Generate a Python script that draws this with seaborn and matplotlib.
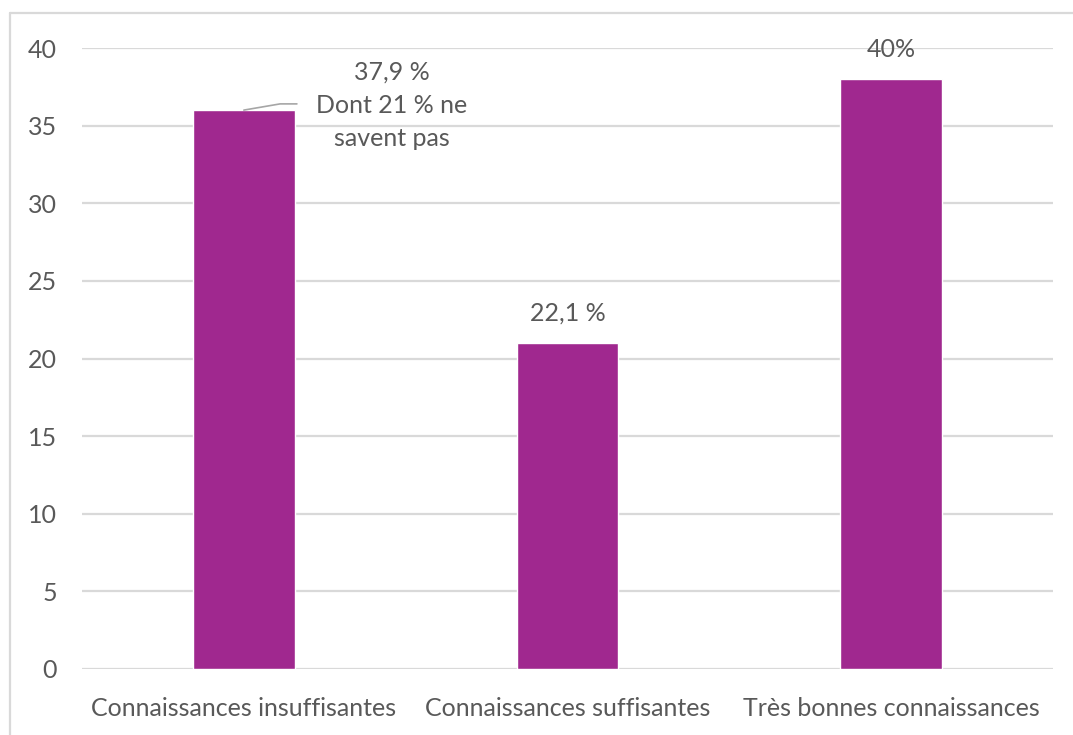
import matplotlib
matplotlib.use("Agg")
import matplotlib.pyplot as plt
import seaborn as sns
import pandas as pd
from matplotlib.lines import Line2D

categories = ["Connaissances insuffisantes", "Connaissances suffisantes", "Très bonnes connaissances"]
values = [36, 21, 38]
labels = ["37,9 %\nDont 21 % ne\nsavent pas", "22,1 %", "40%"]
yticks = [0, 5, 10, 15, 20, 25, 30, 35, 40]

sns.set_theme(style="white")
plt.rcParams['font.family'] = ['Lato', 'DejaVu Sans']

BAR = "#A0288F"
TXT = "#595959"
GRID = "#D9D9D9"
FS = 18

df = pd.DataFrame({"cat": categories, "val": values})

W, H = 1073, 735
fig = plt.figure(figsize=(W / 100, H / 100), dpi=100)
ax = fig.add_axes([82 / W, 1 - 669 / H, (1053 - 82) / W, (669 - 48) / H])

sns.barplot(data=df, x="cat", y="val", color=BAR, width=0.315, saturation=1, ax=ax, zorder=3)

ax.set_xlim(-0.5, 2.5)
ax.set_ylim(0, 40)
ax.set_yticks(yticks)
ax.set_yticklabels([str(t) for t in yticks])
ax.yaxis.grid(True, color=GRID, linewidth=1.6, zorder=0)
ax.set_axisbelow(True)
for s in ax.spines.values():
    s.set_visible(False)
ax.set_xlabel("")
ax.set_ylabel("")
ax.tick_params(axis="y", length=0, pad=18, labelsize=FS, labelcolor=TXT)
ax.tick_params(axis="x", length=0, pad=20, labelsize=FS, labelcolor=TXT)

# labels
ax.text(0.458, values[0] + 0.3, labels[0], ha="center", va="center", fontsize=FS,
        color=TXT, linespacing=1.52)
ax.plot([0, 0.112, 0.164], [values[0], values[0] + 0.4, values[0] + 0.4],
        color="#A6A6A6", linewidth=1.2, zorder=4, clip_on=False)
for i in (1, 2):
    ax.annotate(labels[i], (i, values[i]), xytext=(0, 21.6), textcoords="offset points",
                ha="center", va="center", fontsize=FS, color=TXT)

# figure frame (top and left only)
fig.add_artist(Line2D([10 / W, 1], [1 - 13 / H, 1 - 13 / H], transform=fig.transFigure,
                      color=GRID, linewidth=1.6))
fig.add_artist(Line2D([10 / W, 10 / W], [0, 1 - 13 / H], transform=fig.transFigure,
                      color=GRID, linewidth=1.6))

fig.savefig("out.png", dpi=100, facecolor="white")
